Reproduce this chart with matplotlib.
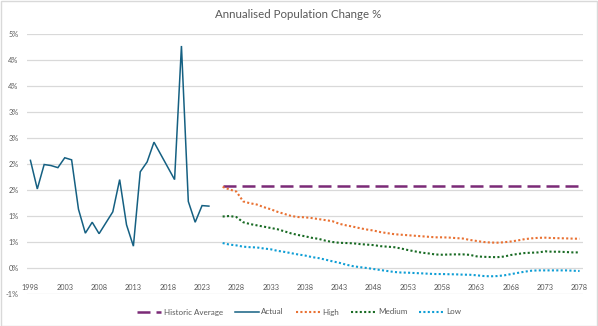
import matplotlib
matplotlib.use("Agg")
import matplotlib.pyplot as plt
from matplotlib.patches import Rectangle
from matplotlib.ticker import FixedLocator, FixedFormatter

plt.rcParams['font.family'] = ['Lato', 'DejaVu Sans']

# ---------------- data ----------------
actual_years = list(range(1998, 2025))
actual = [2.07, 1.52, 1.99, 1.97, 1.93, 2.12, 2.08, 1.13, 0.67, 0.88,
          0.66, 0.87, 1.08, 1.70, 0.83, 0.42, 1.85, 2.04, 2.42, 2.18,
          1.94, 1.70, 4.27, 1.28, 0.88, 1.20, 1.19]

proj_years = list(range(2026, 2079))
historic_average = 1.58
high = [1.56, 1.51, 1.47, 1.28, 1.245, 1.22, 1.17, 1.13, 1.08, 1.04,
        1.00, 0.98, 0.975, 0.96, 0.94, 0.92, 0.90, 0.85, 0.82, 0.795,
        0.765, 0.74, 0.72, 0.69, 0.67, 0.65, 0.64, 0.63, 0.62, 0.61,
        0.60, 0.59, 0.59, 0.585, 0.575, 0.567, 0.54, 0.52, 0.50, 0.49,
        0.487, 0.495, 0.51, 0.53, 0.555, 0.57, 0.58, 0.583, 0.576, 0.573,
        0.57, 0.565, 0.563]
medium = [0.99, 1.00, 0.98, 0.88, 0.845, 0.82, 0.795, 0.77, 0.745, 0.705,
          0.665, 0.635, 0.61, 0.58, 0.56, 0.525, 0.50, 0.485, 0.48, 0.475,
          0.46, 0.45, 0.44, 0.42, 0.41, 0.40, 0.375, 0.345, 0.32, 0.295,
          0.28, 0.26, 0.255, 0.26, 0.262, 0.262, 0.253, 0.224, 0.215, 0.211,
          0.208, 0.22, 0.25, 0.27, 0.288, 0.294, 0.30, 0.32, 0.313, 0.313,
          0.307, 0.30, 0.30]
low = [0.48, 0.45, 0.435, 0.41, 0.40, 0.395, 0.375, 0.36, 0.33, 0.31,
       0.285, 0.26, 0.24, 0.21, 0.19, 0.16, 0.128, 0.10, 0.064, 0.035,
       0.016, 0.0, -0.02, -0.039, -0.058, -0.077, -0.087, -0.09, -0.097, -0.103,
       -0.11, -0.116, -0.116, -0.12, -0.122, -0.128, -0.13, -0.14, -0.154, -0.16,
       -0.155, -0.142, -0.118, -0.094, -0.071, -0.052, -0.046, -0.046, -0.046, -0.046,
       -0.046, -0.052, -0.058]

x_tick_years = list(range(1998, 2079, 5))
y_ticks = [-0.5, 0.0, 0.5, 1.0, 1.5, 2.0, 2.5, 3.0, 3.5, 4.0, 4.5]
y_tick_labels = ['-1%', '0%', '1%', '1%', '2%', '2%', '3%', '3%', '4%', '4%', '5%']

title = "Annualised Population Change %"

# ---------------- styling ----------------
TXT = '#595959'
GRID = '#D9D9D9'
C_AVG = '#7B2A77'
C_ACT = '#156082'
C_HIGH = '#E97132'
C_MED = '#196B24'
C_LOW = '#0F9ED5'

W, H = 598, 326
fig = plt.figure(figsize=(W / 100, H / 100), dpi=100)
fig.patch.set_facecolor('white')
fig.add_artist(Rectangle((0.5 / W, 0.5 / H), 1 - 1.5 / W, 1 - 1.5 / H,
                         transform=fig.transFigure, fill=False,
                         edgecolor=GRID, linewidth=1.0))

ax = fig.add_axes([27 / W, 32 / H, (583 - 27) / W, (294 - 34) / H])
ax.set_facecolor('white')

ax.plot(proj_years, [historic_average] * len(proj_years), color=C_AVG,
        lw=1.8, dashes=(5.2, 2.4), label='Historic Average', zorder=3)
ax.plot(actual_years, actual, color=C_ACT, lw=1.1, label='Actual', zorder=4,
        solid_joinstyle='miter')
ax.plot(proj_years, high, color=C_HIGH, lw=1.5, dashes=(1, 1.1), label='High', zorder=3)
ax.plot(proj_years, medium, color=C_MED, lw=1.5, dashes=(1, 1.1), label='Medium', zorder=3)
ax.plot(proj_years, low, color=C_LOW, lw=1.5, dashes=(1, 1.1), label='Low', zorder=3)

ax.set_xlim(1997.5, 2078.5)
ax.set_ylim(-0.5, 4.5)

ax.yaxis.set_major_locator(FixedLocator(y_ticks))
ax.yaxis.set_major_formatter(FixedFormatter(y_tick_labels))
ax.set_xticks(x_tick_years)
ax.set_xticklabels([str(y) for y in x_tick_years])

ax.grid(axis='y', color=GRID, lw=0.9)
ax.set_axisbelow(True)
for s in ax.spines.values():
    s.set_visible(False)
ax.spines['bottom'].set_position(('data', 0))

ax.tick_params(axis='y', length=0, pad=6, labelsize=5.3, labelcolor=TXT)
ax.tick_params(axis='x', length=0, pad=11.5, labelsize=5.3, labelcolor=TXT)

fig.text(298 / W, 1 - 15 / H, title, ha='center', va='center',
         fontsize=8.3, color=TXT)

leg = fig.legend(loc='center', bbox_to_anchor=(0.5, 1 - 312 / H), ncol=5,
                 frameon=False, fontsize=5.8, handlelength=3.0,
                 handletextpad=0.3, columnspacing=1.5, labelcolor=TXT)

fig.savefig('out.png', dpi=100)
